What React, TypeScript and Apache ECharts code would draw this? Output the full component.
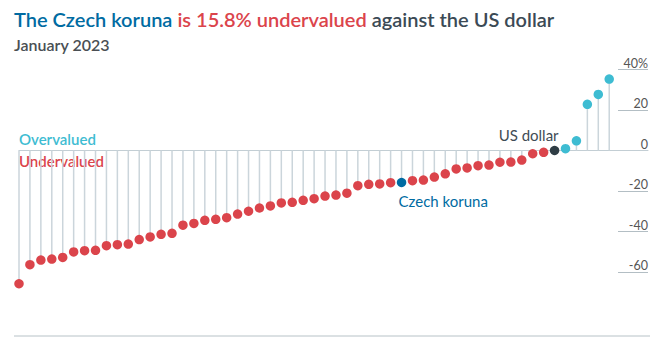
import React, { useEffect, useRef } from "react";
import * as echarts from "echarts";

// Currency valuation vs US dollar (%), sorted ascending, one value per currency
const values: number[] = [
  -65.8, -56.4, -54.1, -53.6, -52.8, -50.1, -49.5, -49.3, -47.0, -46.5,
  -46.2, -44.0, -42.7, -41.4, -40.9, -36.9, -36.0, -34.5, -34.0, -33.2,
  -31.4, -30.0, -28.4, -27.4, -25.9, -25.6, -24.6, -23.8, -22.5, -22.0,
  -21.1, -17.4, -16.7, -16.5, -15.9, -15.8, -14.9, -14.6, -13.1, -11.5,
  -9.1, -8.6, -7.5, -7.2, -5.8, -5.7, -4.7, -1.6, -0.9, 0, 0.9, 4.8,
  22.8, 27.7, 35.3,
];
const czechIndex = 35;
const dollarIndex = 49;
const yTicks: number[] = [-60, -40, -20, 0, 20, 40];

const RED = "#db444b";
const TEAL = "#3ebcd2";
const BLUE = "#006ba2";
const DARK = "#2f3d45";
const FONT = "Lato, 'Noto Sans', sans-serif";

export default function App() {
  const ref = useRef<HTMLDivElement>(null);
  useEffect(() => {
    if (!ref.current) return;
    const chart = echarts.init(ref.current, null, { renderer: "svg" });
    const dots = values.map((v, i) => {
      let color = v > 0 ? TEAL : RED;
      if (i === czechIndex) color = BLUE;
      if (i === dollarIndex) color = DARK;
      if (i > dollarIndex) color = TEAL;
      const item: any = { value: [i, v], itemStyle: { color } };
      if (i === czechIndex) {
        item.label = {
          show: true,
          formatter: "Czech koruna",
          position: "bottom",
          align: "left",
          distance: 6,
          offset: [-3, 0],
          color: BLUE,
          fontSize: 15,
          fontFamily: FONT,
        };
      }
      if (i === dollarIndex) {
        item.label = {
          show: true,
          formatter: "US dollar",
          position: "top",
          align: "right",
          distance: 3,
          offset: [4, 0],
          color: "#3f4c55",
          fontSize: 15,
          fontFamily: FONT,
        };
      }
      return item;
    });
    const yMin = yTicks[0];
    const yMax = yTicks[yTicks.length - 1];
    const zeroY = 150.5;
    const pxPerUnit = 2.025;
    const top = zeroY - yMax * pxPerUnit;
    chart.setOption({
      animation: false,
      title: {
        left: 14,
        top: 7,
        padding: 0,
        itemGap: 8,
        text: "{a|The Czech koruna} {b|is 15.8% undervalued} {c|against the US dollar}",
        textStyle: {
          rich: {
            a: { color: BLUE, fontSize: 20, fontFamily: FONT, fontWeight: 600, lineHeight: 24 },
            b: { color: RED, fontSize: 20, fontFamily: FONT, fontWeight: 600, lineHeight: 24 },
            c: { color: "#3b4a55", fontSize: 20, fontFamily: FONT, fontWeight: 600, lineHeight: 24 },
          },
        },
        subtext: "January 2023",
        subtextStyle: {
          color: "#4a4f54",
          fontSize: 16,
          fontFamily: FONT,
          fontWeight: 600,
          lineHeight: 18,
        },
      },
      grid: [
        { left: 19, right: 22, top, height: (yMax + 80) * pxPerUnit },
        { left: 618, right: 22, top, height: (yMax - yMin) * pxPerUnit },
      ],
      xAxis: [
        {
          type: "value",
          gridIndex: 0,
          min: 0,
          max: 629 / 10.93,
          axisLine: { show: true, onZero: true, lineStyle: { color: "#c3ced4", width: 1 } },
          axisTick: { show: false },
          axisLabel: { show: false },
          splitLine: { show: false },
        },
        {
          type: "value",
          gridIndex: 1,
          show: false,
        },
      ],
      yAxis: [
        {
          type: "value",
          gridIndex: 0,
          min: -80,
          max: yMax,
          show: false,
          splitLine: { show: false },
        },
        {
          type: "value",
          gridIndex: 1,
          position: "right",
          min: yMin,
          max: yMax,
          interval: 20,
          axisLine: { show: false },
          axisTick: { show: false },
          splitLine: { show: true, lineStyle: { color: "#b3bec4", width: 1 } },
          axisLabel: {
            inside: true,
            margin: 0,
            align: "right",
            verticalAlign: "bottom",
            color: "#555",
            fontSize: 12.5,
            fontFamily: FONT,
            formatter: (v: number) => (v === yMax ? v + "%" : String(v)),
          },
        },
      ],
      series: [
        {
          type: "bar",
          xAxisIndex: 0,
          yAxisIndex: 0,
          barWidth: 1.5,
          itemStyle: { color: "#cbd5db" },
          data: values.map((v, i) => [i, v]),
          silent: true,
          z: 1,
        },
        {
          type: "scatter",
          xAxisIndex: 0,
          yAxisIndex: 0,
          symbolSize: 9.5,
          itemStyle: { opacity: 1 },
          data: dots,
          z: 3,
        },
      ],
      graphic: [
        {
          type: "text",
          x: 19,
          y: 139,
          style: { text: "Overvalued", fill: TEAL, font: `600 15px ${FONT}`, verticalAlign: "middle" },
        },
        {
          type: "text",
          x: 19,
          y: 161,
          style: { text: "Undervalued", fill: RED, font: `600 15px ${FONT}`, verticalAlign: "middle" },
        },
        {
          type: "line",
          shape: { x1: 14, y1: 336, x2: 650, y2: 336 },
          style: { stroke: "#b7c2c7", lineWidth: 1 },
        },
      ],
    });
    return () => chart.dispose();
  }, []);
  return (
    <div
      ref={ref}
      style={{ position: "absolute", left: 0, top: 0, width: 670, height: 344 }}
    />
  );
}
